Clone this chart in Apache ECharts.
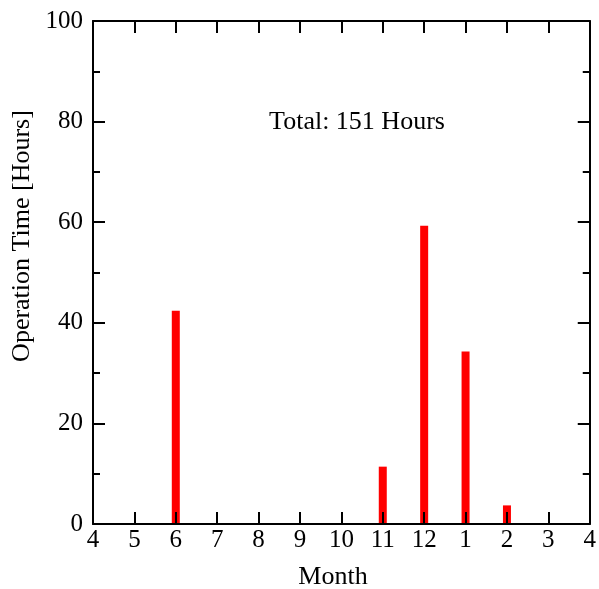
<!DOCTYPE html>
<html>
<head>
<meta charset="utf-8">
<script src="https://cdn.jsdelivr.net/npm/echarts@6/dist/echarts.min.js"></script>
<style>html,body{margin:0;padding:0;background:#fff}#c{width:599px;height:589px}</style>
</head>
<body>
<div id="c"></div>
<script>
var monthLabels = ['4','5','6','7','8','9','10','11','12','1','2','3','4'];
var barMonths = ['6','11','12','1','2'];
var barPositions = [2, 7, 8, 9, 10];
var barValues = [42.4, 11.4, 59.3, 34.3, 3.7];
var yTicks = [0, 20, 40, 60, 80, 100];
var annotation = 'Total: 151 Hours';
var xTitle = 'Month';
var yTitle = 'Operation Time [Hours]';

var font = 'Liberation Serif, Times New Roman, serif';
var black = '#000';
var data = barPositions.map(function (p, i) { return [p, barValues[i]]; });

var chart = echarts.init(document.getElementById('c'), null, {renderer: 'canvas'});
var xBase = {
  type: 'value', min: 0, max: monthLabels.length - 1, interval: 1, z: 5,
  axisLine: {show: true, onZero: false, lineStyle: {color: black, width: 2}},
  axisTick: {show: true, inside: true, length: 12, lineStyle: {color: black, width: 2}},
  splitLine: {show: false}
};
var yBase = {
  type: 'value', min: yTicks[0], max: yTicks[yTicks.length - 1], interval: 20, z: 5,
  axisLine: {show: true, onZero: false, lineStyle: {color: black, width: 2}},
  axisTick: {show: true, inside: true, length: 12, lineStyle: {color: black, width: 2}},
  minorTick: {show: true, splitNumber: 2, length: 7, lineStyle: {color: black, width: 2}},
  splitLine: {show: false}
};
chart.setOption({
  animation: false,
  backgroundColor: '#fff',
  grid: {left: 93, right: 3, top: 21, bottom: 65, containLabel: false},
  xAxis: [
    Object.assign({}, xBase, {
      position: 'bottom',
      axisLabel: {show: true, margin: 4, color: black, fontFamily: font, fontSize: 25,
        formatter: function (v) { return monthLabels[Math.round(v)]; }}
    }),
    Object.assign({}, xBase, {position: 'top', axisLabel: {show: false}})
  ],
  yAxis: [
    Object.assign({}, yBase, {
      position: 'left',
      axisLabel: {show: true, margin: 10, color: black, fontFamily: font, fontSize: 25}
    }),
    Object.assign({}, yBase, {position: 'right', axisLabel: {show: false}})
  ],
  graphic: [
    {type: 'text', x: 333, y: 577, z: 10,
      style: {text: xTitle, fill: black, font: '26px ' + font, align: 'center', verticalAlign: 'middle'}},
    {type: 'text', x: 22, y: 236, rotation: Math.PI / 2, z: 10,
      style: {text: yTitle, fill: black, font: '26px ' + font, align: 'center', verticalAlign: 'middle'}},
    {type: 'text', x: 357, y: 122, z: 10,
      style: {text: annotation, fill: black, font: '26px ' + font, align: 'center', verticalAlign: 'middle'}}
  ],
  series: [{
    type: 'bar', xAxisIndex: 0, yAxisIndex: 0, barWidth: 8, z: 2,
    itemStyle: {color: '#ff0000'},
    data: data
  }]
});
</script>
</body>
</html>
